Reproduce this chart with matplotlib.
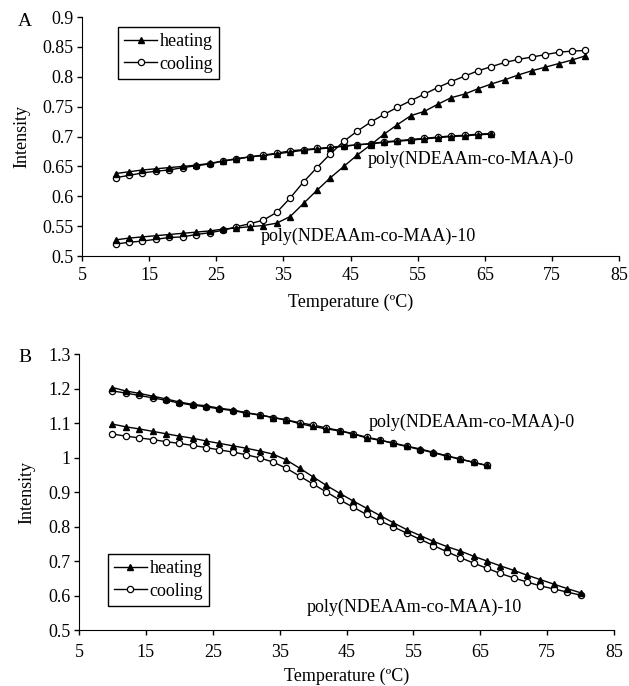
import numpy as np
import matplotlib
matplotlib.use("Agg")
import matplotlib.pyplot as plt

plt.rcParams['font.family'] = ['Liberation Serif', 'DejaVu Serif']

temp0 = np.arange(10, 67, 2)    # poly(NDEAAm-co-MAA)-0
temp10 = np.arange(10, 81, 2)   # poly(NDEAAm-co-MAA)-10

# panel A
a_heat0 = [0.638, 0.641, 0.644, 0.646, 0.648, 0.650, 0.652, 0.655, 0.659, 0.663,
           0.666, 0.668, 0.671, 0.674, 0.677, 0.679, 0.681, 0.684, 0.686, 0.688,
           0.690, 0.692, 0.694, 0.696, 0.698, 0.700, 0.701, 0.703, 0.704]
a_cool0 = [0.631, 0.635, 0.639, 0.642, 0.644, 0.648, 0.651, 0.654, 0.659, 0.662,
           0.666, 0.669, 0.672, 0.676, 0.678, 0.680, 0.682, 0.684, 0.686, 0.688,
           0.691, 0.693, 0.695, 0.697, 0.699, 0.701, 0.702, 0.704, 0.705]
a_heat10 = [0.527, 0.530, 0.532, 0.534, 0.536, 0.538, 0.540, 0.542, 0.545, 0.547,
            0.549, 0.551, 0.555, 0.566, 0.588, 0.610, 0.631, 0.650, 0.669, 0.686,
            0.704, 0.720, 0.735, 0.742, 0.754, 0.765, 0.771, 0.780, 0.788, 0.795,
            0.803, 0.810, 0.816, 0.822, 0.828, 0.835]
a_cool10 = [0.520, 0.523, 0.525, 0.528, 0.531, 0.532, 0.536, 0.539, 0.543, 0.549,
            0.554, 0.560, 0.573, 0.597, 0.624, 0.648, 0.671, 0.692, 0.709, 0.724,
            0.737, 0.749, 0.760, 0.771, 0.782, 0.792, 0.801, 0.810, 0.817, 0.824,
            0.829, 0.833, 0.837, 0.841, 0.843, 0.844]

# panel B
b_heat0 = [1.203, 1.193, 1.186, 1.178, 1.170, 1.161, 1.154, 1.150, 1.143, 1.138,
           1.130, 1.124, 1.116, 1.109, 1.098, 1.090, 1.083, 1.077, 1.068, 1.057,
           1.050, 1.042, 1.033, 1.025, 1.015, 1.005, 0.996, 0.986, 0.977]
b_cool0 = [1.193, 1.187, 1.180, 1.173, 1.166, 1.158, 1.152, 1.147, 1.141, 1.136,
           1.129, 1.123, 1.116, 1.109, 1.101, 1.094, 1.086, 1.078, 1.069, 1.059,
           1.051, 1.041, 1.032, 1.023, 1.014, 1.004, 0.995, 0.986, 0.977]
b_heat10 = [1.097, 1.089, 1.083, 1.076, 1.069, 1.062, 1.056, 1.048, 1.041, 1.034,
            1.027, 1.019, 1.010, 0.993, 0.969, 0.944, 0.919, 0.896, 0.874, 0.853,
            0.832, 0.811, 0.791, 0.774, 0.757, 0.742, 0.729, 0.714, 0.700, 0.686,
            0.673, 0.659, 0.646, 0.633, 0.620, 0.608]
b_cool10 = [1.068, 1.062, 1.057, 1.052, 1.046, 1.041, 1.035, 1.029, 1.022, 1.016,
            1.008, 0.999, 0.987, 0.969, 0.946, 0.923, 0.900, 0.877, 0.856, 0.835,
            0.816, 0.799, 0.781, 0.763, 0.745, 0.727, 0.710, 0.694, 0.679, 0.664,
            0.651, 0.639, 0.628, 0.619, 0.610, 0.601]

xticks = [5, 15, 25, 35, 45, 55, 65, 75, 85]
a_yticks = [0.5, 0.55, 0.6, 0.65, 0.7, 0.75, 0.8, 0.85, 0.9]
b_yticks = [0.5, 0.6, 0.7, 0.8, 0.9, 1.0, 1.1, 1.2, 1.3]


def fmt(v):
    return ('%.2f' % v).rstrip('0').rstrip('.')


fig = plt.figure(figsize=(6.29, 6.86), dpi=100)
axA = fig.add_axes([0.1304, 0.6268, 0.8537, 0.3484])
axB = fig.add_axes([0.1256, 0.0816, 0.8506, 0.4023])

heat_kw = dict(color='black', lw=1, marker='^', ms=4.5, mfc='black', mec='black')
cool_kw = dict(color='black', lw=1, marker='o', ms=4.5, mfc='white', mec='black', mew=0.9)

FS = 13

for ax, h0, c0, h10, c10, yt, xpad, lpad, ypad in [
        (axA, a_heat0, a_cool0, a_heat10, a_cool10, a_yticks, 4.5, 7, 9),
        (axB, b_heat0, b_cool0, b_heat10, b_cool10, b_yticks, 6.5, 5, 9)]:
    ax.plot(temp0, c0, **cool_kw)
    ax.plot(temp0, h0, **heat_kw)
    ax.plot(temp10, c10, **cool_kw)
    ax.plot(temp10, h10, **heat_kw)
    ax.set_xlim(5, 85)
    ax.set_ylim(yt[0], yt[-1])
    ax.set_xticks(xticks)
    ax.set_yticks(yt)
    ax.set_yticklabels([fmt(v) for v in yt])
    ax.spines['top'].set_visible(False)
    ax.spines['right'].set_visible(False)
    ax.tick_params(direction='out', length=3.5, width=1, labelsize=FS)
    ax.tick_params(axis='x', pad=xpad)
    ax.tick_params(axis='y', pad=2.5)
    ax.set_xlabel('Temperature (ºC)', fontsize=FS, labelpad=lpad)
    ax.set_ylabel('Intensity', fontsize=FS, labelpad=ypad)

handles = [plt.Line2D([], [], **heat_kw), plt.Line2D([], [], **cool_kw)]
leg_kw = dict(numpoints=1, handlelength=1.8, handletextpad=0.15, fancybox=False,
              edgecolor='black', framealpha=1, fontsize=FS, borderpad=0.35,
              labelspacing=0.3, borderaxespad=0)
legA = axA.legend(handles, ['heating', 'cooling'], loc='upper left',
                  bbox_to_anchor=(0.067, 0.958), **leg_kw)
legA.get_frame().set_linewidth(1)
legB = axB.legend(handles, ['heating', 'cooling'], loc='lower left',
                  bbox_to_anchor=(0.054, 0.087), **leg_kw)
legB.get_frame().set_linewidth(1)

axA.text(47.6, 0.661, 'poly(NDEAAm-co-MAA)-0', fontsize=FS, va='center', ha='left')
axA.text(31.6, 0.533, 'poly(NDEAAm-co-MAA)-10', fontsize=FS, va='center', ha='left')
axB.text(48.3, 1.103, 'poly(NDEAAm-co-MAA)-0', fontsize=FS, va='center', ha='left')
axB.text(39.1, 0.567, 'poly(NDEAAm-co-MAA)-10', fontsize=FS, va='center', ha='left')

fig.text(25 / 629, 1 - 22 / 686, 'A', fontsize=FS + 1, ha='center', va='center')
fig.text(25 / 629, 1 - 357 / 686, 'B', fontsize=FS + 1, ha='center', va='center')

fig.savefig('out.png', dpi=100)
